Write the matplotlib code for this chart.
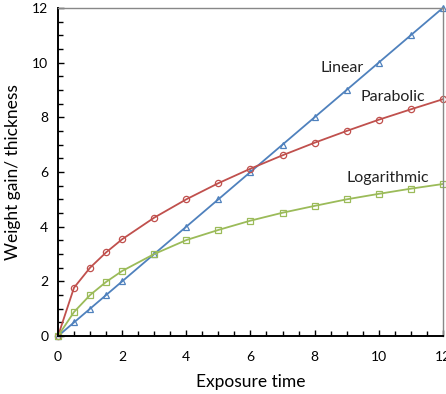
import numpy as np
import matplotlib
matplotlib.use("Agg")
import matplotlib.pyplot as plt
from matplotlib.ticker import MultipleLocator

plt.rcParams['font.family'] = ['Lato', 'DejaVu Sans']

# data
t = [0, 0.5, 1, 1.5, 2, 3, 4, 5, 6, 7, 8, 9, 10, 11, 12]
linear = [0, 0.5, 1, 1.5, 2, 3, 4, 5, 6, 7, 8, 9, 10, 11, 12]
parabolic = [0, 1.77, 2.5, 3.06, 3.54, 4.33, 5.0, 5.59, 6.12, 6.61, 7.07, 7.5, 7.91, 8.29, 8.66]
logarithmic = [0, 0.88, 1.5, 1.98, 2.38, 3.0, 3.51, 3.88, 4.22, 4.51, 4.76, 5.0, 5.2, 5.39, 5.56]

fig = plt.figure(figsize=(4.46, 3.94), dpi=100)
ax = fig.add_axes([0.130, 0.147, 0.863, 0.833])

ax.plot(t, linear, color='#4F81BD', marker='^', mfc='none', ms=4.5, mew=0.9, lw=1.3, clip_on=False)
ax.plot(t, parabolic, color='#C0504D', marker='o', mfc='none', ms=4.5, mew=0.9, lw=1.3, clip_on=False)
ax.plot(t, logarithmic, color='#9BBB59', marker='s', mfc='none', ms=4.5, mew=0.9, lw=1.3, clip_on=False)

ax.text(8.17, 9.8, 'Linear', fontsize=11.5, va='center', color='#222222')
ax.text(9.44, 8.74, 'Parabolic', fontsize=11.5, va='center', color='#222222')
ax.text(8.98, 5.78, 'Logarithmic', fontsize=11.5, va='center', color='#222222')

ax.set_xlim(0, 12)
ax.set_ylim(0, 12)
ax.xaxis.set_major_locator(MultipleLocator(2))
ax.xaxis.set_minor_locator(MultipleLocator(0.5))
ax.yaxis.set_major_locator(MultipleLocator(2))
ax.yaxis.set_minor_locator(MultipleLocator(0.5))
ax.tick_params(which='both', direction='in', width=1, labelsize=10)
ax.tick_params(which='major', length=4)
ax.tick_params(which='minor', length=3.5)
ax.tick_params(axis='x', pad=11)
ax.tick_params(axis='y', pad=7)

for s in ['left', 'bottom']:
    ax.spines[s].set_color('black')
    ax.spines[s].set_linewidth(1.4)
for s in ['top', 'right']:
    ax.spines[s].set_color('#888888')
    ax.spines[s].set_linewidth(1)

ax.set_xlabel('Exposure time', fontsize=12.5, labelpad=8)
ax.set_ylabel('Weight gain/ thickness', fontsize=12.5, labelpad=8)

fig.savefig('out.png', dpi=100)
